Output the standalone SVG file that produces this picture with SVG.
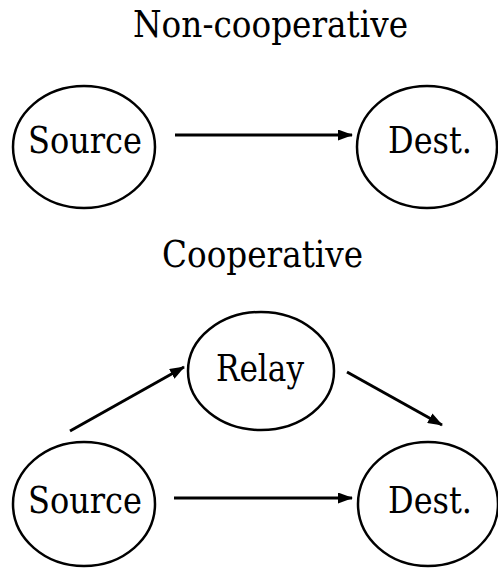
<svg xmlns="http://www.w3.org/2000/svg" width="498" height="568" viewBox="0 0 498 568">
  <style>
    .node ellipse { fill: none; stroke: #000; stroke-width: 2.5; }
    .label { font-family: "DejaVu Serif", serif; font-size: 37px; fill: #000; text-anchor: middle; }
    .edge { stroke: #000; stroke-width: 3; fill: none; marker-end: url(#arrow); }
  </style>
  <defs>
    <!-- filled triangular arrowhead -->
    <marker id="arrow" viewBox="0 0 15 11" refX="14" refY="5.5" markerWidth="15" markerHeight="11" orient="auto" markerUnits="userSpaceOnUse">
      <path d="M0,0 L15,5.5 L0,11 Z" fill="#000"/>
    </marker>
  </defs>
  <rect width="498" height="568" fill="#fff"/>

  <text class="label" x="270.5" y="37" textLength="275" lengthAdjust="spacingAndGlyphs">Non-cooperative</text>
  <text class="label" x="262.5" y="267" textLength="201" lengthAdjust="spacingAndGlyphs">Cooperative</text>

  <g id="src-top" class="node">
    <ellipse cx="84" cy="147" rx="71" ry="61"/>
    <text class="label" x="85" y="153" textLength="114" lengthAdjust="spacingAndGlyphs">Source</text>
  </g>
  <g id="dst-top" class="node">
    <ellipse cx="427" cy="147" rx="70" ry="61"/>
    <text class="label" x="430" y="153" textLength="84" lengthAdjust="spacingAndGlyphs">Dest.</text>
  </g>

  <g id="relay" class="node">
    <ellipse cx="261" cy="371" rx="73" ry="59"/>
    <text class="label" x="260" y="381" textLength="88" lengthAdjust="spacingAndGlyphs">Relay</text>
  </g>
  <g id="src-bottom" class="node">
    <ellipse cx="84" cy="504" rx="71" ry="62"/>
    <text class="label" x="85" y="513" textLength="114" lengthAdjust="spacingAndGlyphs">Source</text>
  </g>
  <g id="dst-bottom" class="node">
    <ellipse cx="428" cy="504" rx="70" ry="62"/>
    <text class="label" x="430" y="513" textLength="84" lengthAdjust="spacingAndGlyphs">Dest.</text>
  </g>

  <g id="connectors">
    <line class="edge" x1="175" y1="135" x2="352" y2="135"/>
    <line class="edge" x1="70" y1="431" x2="184" y2="367"/>
    <line class="edge" x1="347" y1="372" x2="442" y2="425"/>
    <line class="edge" x1="174" y1="498" x2="352" y2="498"/>
  </g>
</svg>
